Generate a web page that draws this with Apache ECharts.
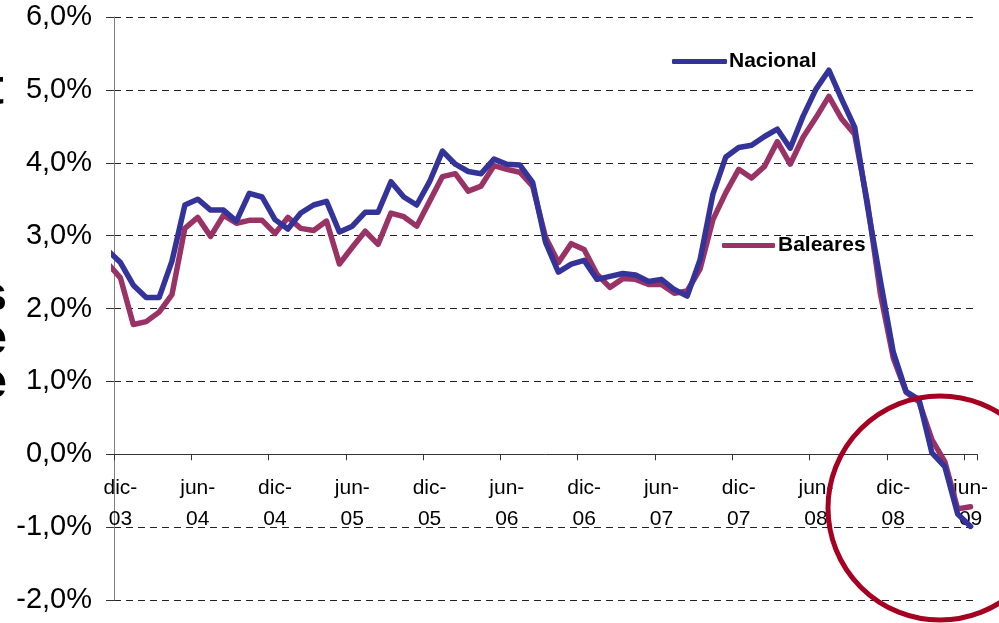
<!DOCTYPE html>
<html>
<head>
<meta charset="utf-8">
<script src="https://cdn.jsdelivr.net/npm/echarts@6/dist/echarts.min.js"></script>
<style>
html,body{margin:0;padding:0;background:#fff;}
#chart{width:999px;height:623px;}
</style>
</head>
<body>
<div id="chart"></div>
<script>
// Months from nov-03 (clipped, only the stub before dic-03 is visible) to jun-09
const months = ['nov-03',
  'dic-03','ene-04','feb-04','mar-04','abr-04','may-04','jun-04','jul-04','ago-04','sep-04','oct-04','nov-04',
  'dic-04','ene-05','feb-05','mar-05','abr-05','may-05','jun-05','jul-05','ago-05','sep-05','oct-05','nov-05',
  'dic-05','ene-06','feb-06','mar-06','abr-06','may-06','jun-06','jul-06','ago-06','sep-06','oct-06','nov-06',
  'dic-06','ene-07','feb-07','mar-07','abr-07','may-07','jun-07','jul-07','ago-07','sep-07','oct-07','nov-07',
  'dic-07','ene-08','feb-08','mar-08','abr-08','may-08','jun-08','jul-08','ago-08','sep-08','oct-08','nov-08',
  'dic-08','ene-09','feb-09','mar-09','abr-09','may-09','jun-09'];

const nacional = [2.80,
  2.63,2.32,2.15,2.15,2.65,3.42,3.50,3.35,3.35,3.20,3.58,3.53,
  3.22,3.09,3.31,3.42,3.47,3.05,3.13,3.32,3.32,3.74,3.53,3.42,
  3.74,4.16,3.98,3.88,3.85,4.05,3.98,3.97,3.73,2.91,2.50,2.61,
  2.66,2.40,2.44,2.48,2.46,2.37,2.40,2.26,2.17,2.67,3.57,4.08,
  4.21,4.24,4.36,4.46,4.20,4.64,5.01,5.27,4.87,4.49,3.40,2.38,
  1.40,0.86,0.75,0.02,-0.17,-0.82,-0.99];

const baleares = [2.62,
  2.42,1.78,1.82,1.95,2.19,3.10,3.25,2.99,3.28,3.17,3.21,3.21,
  3.03,3.25,3.10,3.07,3.20,2.61,2.84,3.06,2.88,3.31,3.26,3.13,
  3.47,3.81,3.85,3.61,3.68,3.96,3.91,3.87,3.68,2.98,2.63,2.89,
  2.81,2.47,2.29,2.41,2.40,2.33,2.33,2.21,2.24,2.54,3.22,3.59,
  3.91,3.79,3.95,4.29,3.98,4.35,4.62,4.91,4.60,4.39,3.45,2.20,
  1.32,0.85,0.72,0.20,-0.10,-0.75,-0.72];

const yTicks = [-2,-1,0,1,2,3,4,5,6];

const seriesNames = ['Nacional','Baleares'];
const colors = {Nacional:'#333399', Baleares:'#993366'};

const categories = months.slice(1);
function toPairs(arr){ return arr.map((v,i)=>[i-1, v]); }

const FONT = '"Liberation Sans", Arial, sans-serif';

const GRID_TOP = 17, GRID_BOTTOM = 23, H = 623;
const plotH = H - GRID_TOP - GRID_BOTTOM;
const yMin = yTicks[0], yMax = yTicks[yTicks.length-1];
// distance from the bottom edge of the plot to the 0% line
const zeroOffset = plotH * (0 - yMin) / (yMax - yMin);

const chart = echarts.init(document.getElementById('chart'), null, {renderer:'canvas'});
chart.setOption({
  animation:false,
  backgroundColor:'#ffffff',
  grid:{left:114, right:22, top:GRID_TOP, bottom:GRID_BOTTOM, containLabel:false, outerBoundsMode:'none'},
  xAxis:[{
    type:'category',
    data:categories,
    boundaryGap:true,
    position:'bottom',
    offset:-zeroOffset,
    axisLine:{onZero:false, lineStyle:{color:'#333333', width:1}},
    axisTick:{show:true, interval:5, length:6, lineStyle:{color:'#333333'}},
    axisLabel:{
      interval:5, margin:18, color:'#000', fontFamily:FONT, fontSize:21, lineHeight:31,
      formatter:(v)=>v.replace('-','-\n')
    },
    splitLine:{show:false}
  },{
    type:'value',
    min:-0.5, max:categories.length-0.5,
    show:false,
    axisLine:{onZero:false}
  }],
  yAxis:{
    type:'value',
    min:yMin, max:yMax, interval:1,
    axisLine:{show:true, onZero:false, lineStyle:{color:'#7f7f7f', width:1}},
    axisTick:{show:true, length:8, lineStyle:{color:'#333333'}},
    axisLabel:{
      margin:22, color:'#000', fontFamily:FONT, fontSize:29,
      formatter:(v)=>v.toFixed(1).replace('.',',')+'%'
    },
    splitLine:{show:true, lineStyle:{color:'#222222', width:1, type:[7,5]}}
  },
  legend:[{
    data:['Nacional'], left:667, top:46, selectedMode:false,
    icon:'roundRect', itemWidth:55, itemHeight:5, itemGap:0,
    textStyle:{color:'#000', fontFamily:FONT, fontSize:21, fontWeight:'bold', padding:[0,0,0,-3]}
  },{
    data:['Baleares'], left:717, top:230, selectedMode:false,
    icon:'roundRect', itemWidth:53, itemHeight:5, itemGap:0,
    textStyle:{color:'#000', fontFamily:FONT, fontSize:21, fontWeight:'bold', padding:[0,0,0,-2]}
  }],
  series:[{
    name:'Baleares', type:'line', xAxisIndex:1, data:toPairs(baleares),
    showSymbol:false, symbol:'none', clip:true, z:2,
    itemStyle:{color:colors.Baleares},
    lineStyle:{color:colors.Baleares, width:5.5, cap:'round', join:'round'}
  },{
    name:'Nacional', type:'line', xAxisIndex:1, data:toPairs(nacional),
    showSymbol:false, symbol:'none', clip:true, z:3,
    itemStyle:{color:colors.Nacional},
    lineStyle:{color:colors.Nacional, width:5.5, cap:'round', join:'round'}
  }],
  graphic:[
    {type:'circle', shape:{cx:940, cy:508, r:112}, style:{fill:'none', stroke:'#a50021', lineWidth:5}, z:10},
    {type:'text', x:4, y:90, style:{text:'t', font:'bold 50px '+FONT, fill:'#000', align:'right', verticalAlign:'middle'}},
    {type:'text', x:7, y:297, style:{text:'s', font:'bold 50px '+FONT, fill:'#000', align:'right', verticalAlign:'middle'}},
    {type:'text', x:7, y:340, style:{text:'e', font:'bold 50px '+FONT, fill:'#000', align:'right', verticalAlign:'middle'}},
    {type:'text', x:7, y:384, style:{text:'e', font:'bold 50px '+FONT, fill:'#000', align:'right', verticalAlign:'middle'}}
  ]
});
</script>
</body>
</html>
